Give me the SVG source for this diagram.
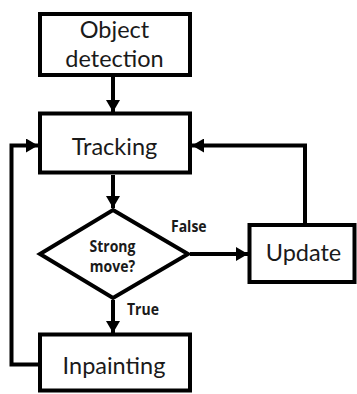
<svg xmlns="http://www.w3.org/2000/svg" width="357" height="394" viewBox="0 0 357 394">
  <style>
    .box { fill: #ffffff; stroke: #000000; stroke-width: 4; }
    .wire { fill: none; stroke: #000000; stroke-width: 4; }
    .label { font-family: Lato, "Open Sans", "Liberation Sans", sans-serif; font-size: 23.5px; fill: #1a1a1a; text-anchor: middle; }
    .small { font-family: "Open Sans", "Noto Sans", "Liberation Sans", sans-serif; font-size: 14px; font-weight: bold; fill: #1a1a1a; }
  </style>
  <defs>
    <marker id="arrow" markerUnits="userSpaceOnUse" markerWidth="13" markerHeight="14" refX="12" refY="7" orient="auto">
      <path d="M0,0 L12,7 L0,14 z" fill="#000000"/>
    </marker>
  </defs>
  <rect width="357" height="394" fill="#ffffff"/>

  <g id="connectors">
    <path class="wire" d="M113,77 L113,112" marker-end="url(#arrow)"/>
    <path class="wire" d="M113,175 L113,208" marker-end="url(#arrow)"/>
    <path class="wire" d="M190,254 L248,254" marker-end="url(#arrow)"/>
    <path class="wire" d="M113,300 L113,333" marker-end="url(#arrow)"/>
    <path class="wire" d="M305,223 L305,145.5 L192,145.5" marker-end="url(#arrow)"/>
    <path class="wire" d="M38,364.5 L11.5,364.5 L11.5,145.5 L38,145.5" marker-end="url(#arrow)"/>
    <text class="small" transform="translate(171,232) scale(1,1.1)">False</text>
    <text class="small" transform="translate(127,315) scale(1,1.1)">True</text>
  </g>

  <g id="object-detection">
    <rect class="box" x="40" y="14" width="150" height="61"/>
    <text class="label" x="114.5" y="37.5">Object</text>
    <text class="label" x="114.5" y="66.5">detection</text>
  </g>

  <g id="tracking">
    <rect class="box" x="40" y="113.5" width="150" height="59"/>
    <text class="label" x="114.5" y="155">Tracking</text>
  </g>

  <g id="strong-move">
    <path class="box" d="M113,210 L188,254 L113,298 L40,254 Z"/>
    <text class="small" text-anchor="middle" transform="translate(112.5,251.5) scale(1,1.1)"><tspan x="0" y="0">Strong</tspan><tspan x="0" y="18.2">move?</tspan></text>
  </g>

  <g id="update">
    <rect class="box" x="249.5" y="225" width="105" height="57"/>
    <text class="label" x="303.5" y="260.5">Update</text>
  </g>

  <g id="inpainting">
    <rect class="box" x="40" y="334.5" width="150" height="56"/>
    <text class="label" x="114" y="373.5">Inpainting</text>
  </g>
</svg>
